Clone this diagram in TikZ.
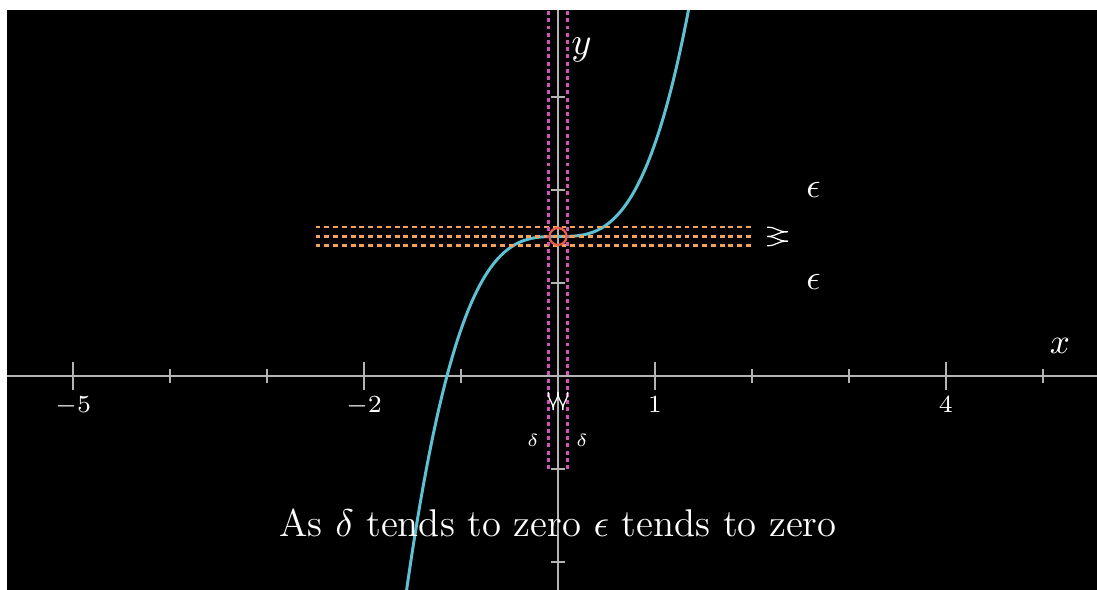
\documentclass[tikz,border=0pt]{standalone}
\usepackage{xcolor}
\usepackage{tikz}
\usepackage{amsmath}
\usetikzlibrary{calc}
\definecolor{axisgray}{HTML}{B4B4B4}
\definecolor{curveblue}{HTML}{5DC1D3}
\definecolor{epsorange}{HTML}{F2A25C}
\definecolor{deltapink}{HTML}{D154B8}
\definecolor{pointred}{HTML}{E8604C}
\tikzset{
  axisline/.style={axisgray, line width=0.75pt},
  epsline/.style={epsorange, line width=0.75pt, dash pattern=on 1.4pt off 1.1pt},
  deltaline/.style={deltapink, line width=0.75pt, dash pattern=on 1.1pt off 0.95pt},
  bracemark/.style={white, line width=0.35pt},
  ticklabel/.style={anchor=base, text=white, font=\fontsize{7.2}{8}\selectfont}
}

\begin{document}
\begin{tikzpicture}[x=0.97cm, y=0.93cm, font=\fontsize{10}{12}\selectfont, text=white]
  \fill[white] (-5.753,-2.301) rectangle (5.557,4.043);
  \fill[black] (-5.680,-2.301) rectangle (5.557,3.935);
  \begin{scope}
    \clip (-5.680,-2.301) rectangle (5.557,3.935);
    % axes
    \draw[axisline] (-5.680,0) -- (5.557,0);
    \draw[axisline] (0,-2.301) -- (0,3.935);
    \draw[axisline] (-5,-0.15) -- (-5,0.15) (-2,-0.15) -- (-2,0.15) (1,-0.15) -- (1,0.15) (4,-0.15) -- (4,0.15);
    \draw[axisline] (-4,-0.075) -- (-4,0.075) (-3,-0.075) -- (-3,0.075) (-1,-0.075) -- (-1,0.075)
      (2,-0.075) -- (2,0.075) (3,-0.075) -- (3,0.075) (5,-0.075) -- (5,0.075);
    \draw[axisline] (-0.077,-2) -- (0.077,-2) (-0.077,-1) -- (0.077,-1) (-0.077,1) -- (0.077,1)
      (-0.077,2) -- (0.077,2) (-0.077,3) -- (0.077,3);

    % the cubic
    \draw[curveblue, line width=0.85pt] plot[domain=-1.58:1.36, samples=120, smooth] (\x,{\x*\x*\x+1.5});

    % epsilon band
    \draw[epsline] (-2.5,1.6) -- (2,1.6);
    \draw[epsline] (-2.5,1.5) -- (2,1.5);
    \draw[epsline] (-2.5,1.4) -- (2,1.4);

    % delta band
    \draw[deltaline] (-0.1,-1) -- (-0.1,3.935);
    \draw[deltaline] (0.1,-1) -- (0.1,3.935);

    \draw[pointred, line width=0.65pt] (0,1.5) circle[radius=0.085cm];

    % squeezed braces
    \draw[bracemark] (2.155,1.6) .. controls (2.26,1.6) and (2.25,1.55) .. (2.37,1.55)
      .. controls (2.25,1.55) and (2.26,1.5) .. (2.155,1.5);
    \draw[bracemark] (2.155,1.5) .. controls (2.26,1.5) and (2.25,1.45) .. (2.37,1.45)
      .. controls (2.25,1.45) and (2.26,1.4) .. (2.155,1.4);
    \draw[bracemark] (-0.1,-0.172) .. controls (-0.1,-0.28) and (-0.05,-0.26) .. (-0.05,-0.366)
      .. controls (-0.05,-0.26) and (0,-0.28) .. (0,-0.172);
    \draw[bracemark] (0,-0.172) .. controls (0,-0.28) and (0.05,-0.26) .. (0.05,-0.366)
      .. controls (0.05,-0.26) and (0.1,-0.28) .. (0.1,-0.172);
  \end{scope}

  \node[ticklabel] (lblmfive) at (-5,-0.398) {$-5$};
  \node[ticklabel] (lblmtwo) at (-2,-0.398) {$-2$};
  \node[ticklabel] (lblone) at (1,-0.398) {$1$};
  \node[ticklabel] (lblfour) at (4,-0.398) {$4$};
  \node[anchor=base] (xname) at (5.175,0.247) {$x$};
  \node[anchor=base, font=\fontsize{11}{12}\selectfont] (yname) at (0.242,3.452) {$y$};

  \node[anchor=base] (epsup) at (2.634,1.914) {$\epsilon$};
  \node[anchor=base] (epsdown) at (2.634,0.935) {$\epsilon$};
  \node[anchor=base, font=\fontsize{4}{5}\selectfont] (deltaleft) at (-0.258,-0.763) {$\delta$};
  \node[anchor=base, font=\fontsize{4}{5}\selectfont] (deltaright) at (0.247,-0.763) {$\delta$};

  \node[anchor=base, font=\fontsize{11}{13}\selectfont] (caption) at (0,-1.731) {As $\delta$ tends to zero $\epsilon$ tends to zero};
\end{tikzpicture}
\end{document}
